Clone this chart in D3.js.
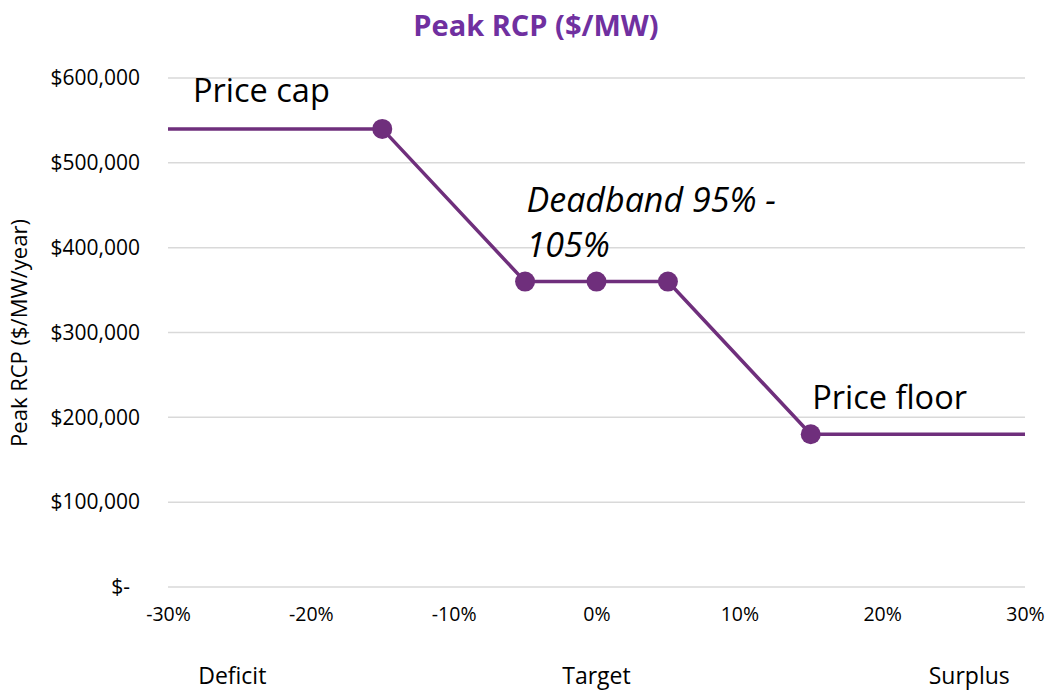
<!DOCTYPE html>
<html>
<head>
<meta charset="utf-8">
<script src="https://cdn.jsdelivr.net/npm/d3@7"></script>
<style>
  body { margin: 0; background: #fff; }
  text { font-family: "Open Sans", "Noto Sans", sans-serif; }
</style>
</head>
<body>
<svg></svg>
<script>
const width = 1048;
const height = 692;

// data
const reserveMargin = [-0.30, -0.15, -0.05, 0, 0.05, 0.15, 0.30];
const peakRcp = [540000, 540000, 360000, 360000, 360000, 180000, 180000];
const hasMarker = [false, true, true, true, true, true, false];
const xTicks = [-0.30, -0.20, -0.10, 0, 0.10, 0.20, 0.30];
const yTicks = [0, 100000, 200000, 300000, 400000, 500000, 600000];
const categories = [
  { label: 'Deficit', x: -0.255 },
  { label: 'Target', x: 0 },
  { label: 'Surplus', x: 0.261 }
];
const notes = [
  { lines: ['Price cap'], x: -0.2825, y: 572000, italic: false },
  { lines: ['Deadband 95% -', '105%'], x: -0.049, y: 442000, italic: true },
  { lines: ['Price floor'], x: 0.151, y: 210000, italic: false }
];

const purple = '#6f2f7c';
const margin = { top: 78, right: 23, bottom: 105, left: 168 };

const svg = d3.select('svg')
  .attr('width', width)
  .attr('height', height);

const x = d3.scaleLinear()
  .domain([-0.30, 0.30])
  .range([margin.left, width - margin.right]);

const y = d3.scaleLinear()
  .domain([0, 600000])
  .range([height - margin.bottom, margin.top]);

svg.append('text')
  .attr('x', 536)
  .attr('y', 36)
  .attr('text-anchor', 'middle')
  .attr('fill', '#7030a0')
  .attr('font-size', 29)
  .attr('font-weight', 'bold')
  .text('Peak RCP ($/MW)');

// gridlines
svg.append('g')
  .selectAll('line')
  .data(yTicks)
  .join('line')
    .attr('x1', x(-0.30))
    .attr('x2', x(0.30))
    .attr('y1', d => y(d))
    .attr('y2', d => y(d))
    .attr('stroke', '#d9d9d9')
    .attr('stroke-width', 1.5);

const yAxis = d3.axisLeft(y)
  .tickValues(yTicks)
  .tickSize(0)
  .tickPadding(28)
  .tickFormat(d => d === 0 ? '$-' : '$' + d3.format(',')(d));

svg.append('g')
  .attr('transform', `translate(${margin.left},0)`)
  .call(yAxis)
  .call(g => g.select('.domain').remove())
  .call(g => g.selectAll('text')
    .attr('font-size', 21)
    .attr('fill', '#000')
    .attr('dx', d => d === 0 ? -10 : 0)
    .style('font-family', '"Open Sans", sans-serif'));

const pct = d3.format('.0%');
const xAxis = d3.axisBottom(x)
  .tickValues(xTicks)
  .tickSize(0)
  .tickPadding(20)
  .tickFormat(d => pct(d).replace('\u2212', '-'));

svg.append('g')
  .attr('transform', `translate(0,${height - margin.bottom})`)
  .call(xAxis)
  .call(g => g.select('.domain').remove())
  .call(g => g.selectAll('text')
    .attr('font-size', 19.5)
    .attr('fill', '#000')
    .style('font-family', '"Open Sans", sans-serif'));

svg.append('g')
  .selectAll('text')
  .data(categories)
  .join('text')
    .attr('x', d => x(d.x))
    .attr('y', 684)
    .attr('text-anchor', 'middle')
    .attr('font-size', 23)
    .text(d => d.label);

svg.append('text')
  .attr('transform', `translate(27,333) rotate(-90)`)
  .attr('text-anchor', 'middle')
  .attr('font-size', 22)
  .text('Peak RCP ($/MW/year)');

const points = reserveMargin.map((m, i) => ({ m, v: peakRcp[i], marker: hasMarker[i] }));

const line = d3.line()
  .x(d => x(d.m))
  .y(d => y(d.v));

svg.append('path')
  .datum(points)
  .attr('fill', 'none')
  .attr('stroke', purple)
  .attr('stroke-width', 3.5)
  .attr('d', line);

svg.append('g')
  .selectAll('circle')
  .data(points.filter(d => d.marker))
  .join('circle')
    .attr('cx', d => x(d.m))
    .attr('cy', d => y(d.v))
    .attr('r', 10)
    .attr('fill', purple);

const noteText = svg.append('g')
  .selectAll('text')
  .data(notes)
  .join('text')
    .attr('x', d => x(d.x))
    .attr('y', d => y(d.y))
    .attr('font-size', d => d.italic ? 34 : 32.5)
    .attr('font-style', d => d.italic ? 'italic' : 'normal')
    .attr('fill', '#000');

noteText.selectAll('tspan')
  .data(d => d.lines.map((l, i) => ({ l, i, x: x(d.x) })))
  .join('tspan')
    .attr('x', d => d.x)
    .attr('dy', d => d.i === 0 ? 0 : 45)
    .text(d => d.l);
</script>
</body>
</html>
